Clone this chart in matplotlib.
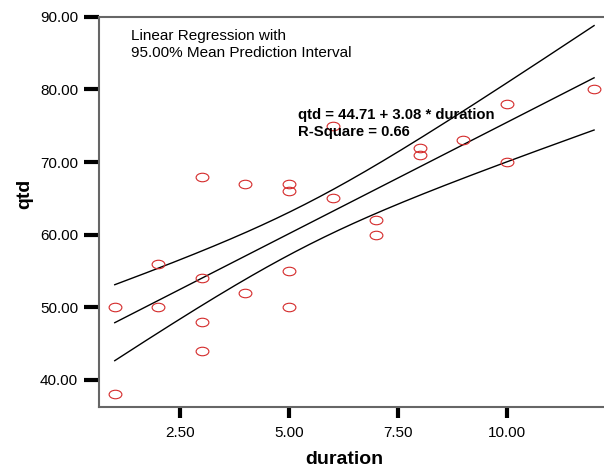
import numpy as np
import matplotlib
matplotlib.use("Agg")
import matplotlib.pyplot as plt
from matplotlib.path import Path
from matplotlib.transforms import Affine2D

plt.rcParams['font.family'] = ['Liberation Sans', 'DejaVu Sans']

duration = [1, 1, 2, 2, 3, 3, 3, 3, 4, 4, 5, 5, 5, 5, 6, 6, 7, 7, 8, 8, 9, 10, 10, 12]
qtd = [50, 38, 56, 50, 68, 54, 48, 44, 67, 52, 67, 66, 55, 50, 65, 75, 62, 60, 72, 71, 73, 78, 70, 80]

xticks = [2.5, 5.0, 7.5, 10.0]
yticks = [40, 50, 60, 70, 80, 90]
fit_label = 'qtd = 44.71 + 3.08 * duration\nR-Square = 0.66'
t_crit = 2.074  # t(0.975, df=22)

x = np.array(duration, dtype=float)
y = np.array(qtd, dtype=float)
n = len(x)
b, a = np.polyfit(x, y, 1)
resid = y - (a + b * x)
s = np.sqrt(np.sum(resid ** 2) / (n - 2))
sxx = np.sum((x - x.mean()) ** 2)

xs = np.linspace(x.min(), x.max(), 200)
yfit = a + b * xs
half = t_crit * s * np.sqrt(1.0 / n + (xs - x.mean()) ** 2 / sxx)

fig = plt.figure(figsize=(6.04, 4.66), dpi=100)
ax = fig.add_axes([0.164, 0.127, 0.834, 0.837])

ax.plot(xs, yfit, color='black', lw=1.0)
ax.plot(xs, yfit + half, color='black', lw=1.0)
ax.plot(xs, yfit - half, color='black', lw=1.0)

# wide open ellipses as markers
ell = Path.unit_circle().transformed(Affine2D().scale(1.5, 1.0))
ax.plot(x, y, linestyle='none', marker=ell, markersize=9.2, markerfacecolor='none',
        markeredgecolor='#d42a2a', markeredgewidth=0.8)

ax.set_xlim(0.64, 12.2)
ax.set_ylim(36.3, 90)
ax.set_xticks(xticks)
ax.set_yticks(yticks)
ax.set_xticklabels(['%.2f' % v for v in xticks])
ax.set_yticklabels(['%.2f' % v for v in yticks])
ax.tick_params(axis='y', length=11, width=3, color='black', labelsize=11, pad=4)
ax.tick_params(axis='x', length=8, width=3, color='black', labelsize=11, pad=6)

for side in ['left', 'bottom', 'top']:
    ax.spines[side].set_color('#666666')
    ax.spines[side].set_linewidth(1.5)
ax.spines['right'].set_visible(False)

ax.set_xlabel('duration', fontsize=14, fontweight='bold')
ax.xaxis.set_label_coords(0.487, -0.114)
ax.set_ylabel('qtd', fontsize=14, fontweight='bold')
ax.yaxis.set_label_coords(-0.131, 0.546)

ax.text(0.0635, 0.969, 'Linear Regression with\n95.00% Mean Prediction Interval',
        transform=ax.transAxes, fontsize=11, va='top', linespacing=1.3)
ax.text(0.395, 0.767, fit_label,
        transform=ax.transAxes, fontsize=10.7, fontweight='bold', va='top', linespacing=1.3)

fig.savefig('out.png', dpi=100)
